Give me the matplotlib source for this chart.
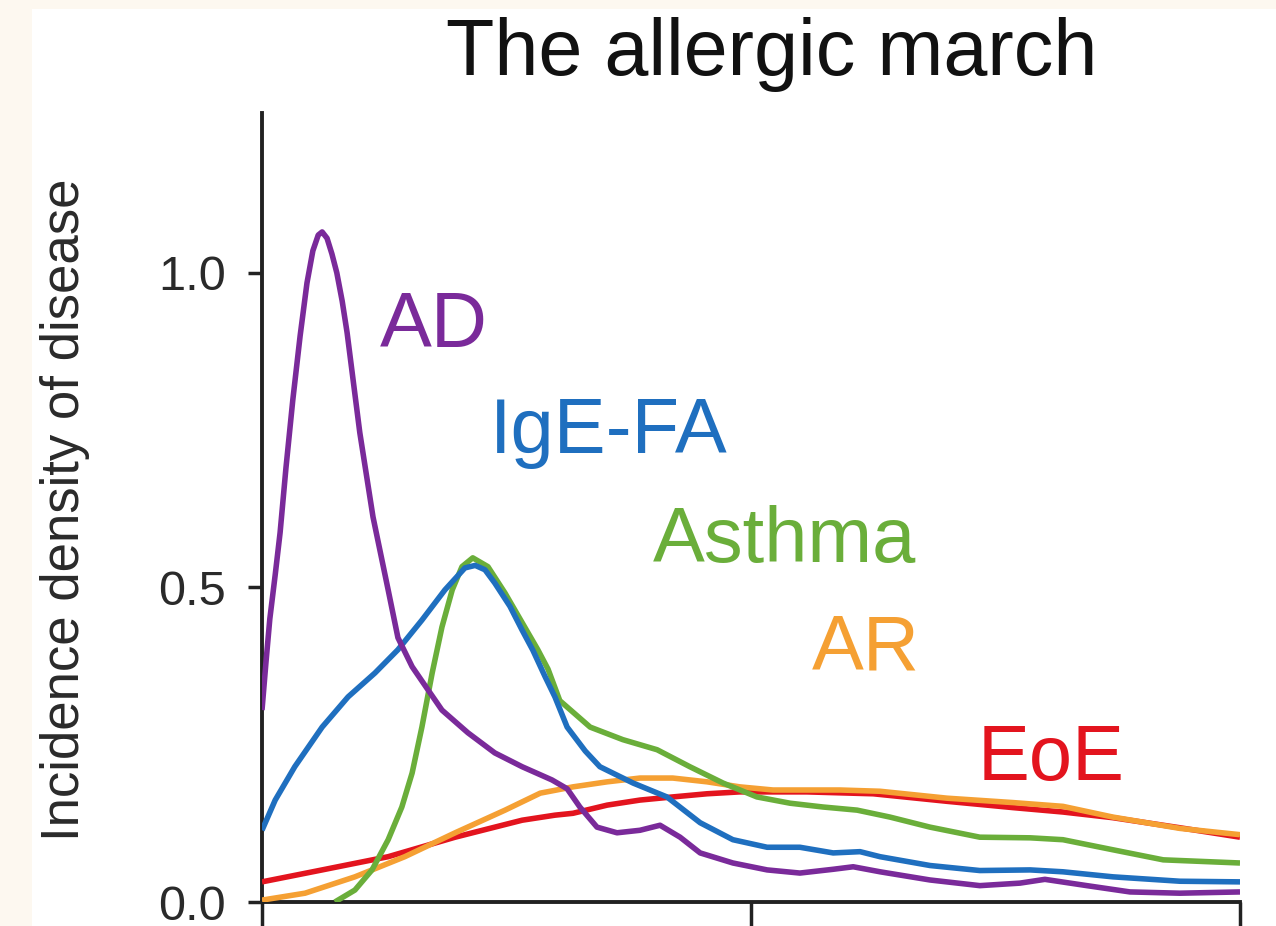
import numpy as np
import matplotlib
matplotlib.use("Agg")
import matplotlib.pyplot as plt
from matplotlib.patches import Rectangle

plt.rcParams['font.family'] = ['Liberation Sans', 'DejaVu Sans']

# age axis (arbitrary units 0-20) and incidence density
ad_x = [0, 0.08, 0.16, 0.27, 0.37, 0.49, 0.63, 0.78, 0.92, 1.04, 1.15, 1.23, 1.33, 1.43,
        1.53, 1.64, 1.74, 2.0, 2.27, 2.58, 2.78, 3.07, 3.37,
        3.68, 4.21, 4.76, 5.32, 5.93, 6.24, 6.5, 6.85, 7.26, 7.73, 8.14, 8.55, 8.96,
        9.63, 10.33, 11.0, 11.68, 12.09, 12.64, 13.66, 14.68, 15.5, 16.01, 16.87,
        17.75, 18.77, 20.0]
ad_y = [0.305, 0.38, 0.45, 0.52, 0.587, 0.69, 0.798, 0.90, 0.984, 1.035, 1.06, 1.065,
        1.055, 1.03, 1.0, 0.955, 0.905, 0.746, 0.612, 0.496, 0.42,
        0.374, 0.34, 0.305, 0.269, 0.237, 0.215, 0.194, 0.18, 0.151, 0.119, 0.110, 0.114,
        0.122, 0.103, 0.078, 0.062, 0.051, 0.046, 0.052, 0.056, 0.048, 0.035, 0.026,
        0.030, 0.036, 0.026, 0.016, 0.014, 0.016]

fa_x = [0, 0.27, 0.67, 1.23, 1.76, 2.31, 2.78, 3.27, 3.74, 4.15, 4.36, 4.56, 4.76, 5.07,
        5.32, 5.54, 5.79, 5.99, 6.24, 6.61, 6.91, 7.59, 8.28, 8.96, 9.63, 10.33, 11.0,
        11.68, 12.23, 12.64, 13.66, 14.68, 15.71, 16.38, 17.4, 18.77, 20.0]
fa_y = [0.114, 0.162, 0.215, 0.278, 0.326, 0.364, 0.401, 0.448, 0.496, 0.531, 0.535,
        0.528, 0.507, 0.47, 0.432, 0.40, 0.358, 0.326, 0.278, 0.24, 0.215, 0.189, 0.167,
        0.126, 0.099, 0.087, 0.087, 0.078, 0.080, 0.072, 0.058, 0.050, 0.051, 0.048,
        0.040, 0.033, 0.032]

asthma_x = [1.49, 1.9, 2.25, 2.58, 2.86, 3.07, 3.27, 3.48, 3.68, 3.89, 4.09, 4.31, 4.62,
            4.97, 5.32, 5.64, 5.85, 6.09, 6.71, 7.38, 8.08, 8.75, 9.43, 10.12, 10.8,
            11.47, 12.17, 12.84, 13.66, 14.68, 15.71, 16.38, 17.4, 18.43, 20.0]
asthma_y = [0.0, 0.019, 0.051, 0.099, 0.151, 0.205, 0.278, 0.364, 0.437, 0.496, 0.533,
            0.547, 0.533, 0.491, 0.444, 0.401, 0.37, 0.32, 0.278, 0.258, 0.242, 0.215,
            0.189, 0.167, 0.157, 0.151, 0.146, 0.135, 0.119, 0.103, 0.102, 0.099, 0.083,
            0.067, 0.062]

ar_x = [0, 0.88, 1.9, 2.92, 3.95, 4.97, 5.69, 6.36, 7.06, 7.73, 8.4, 9.1, 9.77, 10.45,
        11.14, 11.82, 12.64, 14.01, 15.36, 16.38, 17.4, 18.77, 20.0]
ar_y = [0.003, 0.014, 0.040, 0.072, 0.110, 0.146, 0.173, 0.183, 0.191, 0.197, 0.197,
        0.191, 0.183, 0.178, 0.178, 0.178, 0.176, 0.165, 0.158, 0.152, 0.135, 0.117, 0.107]

eoe_x = [0, 1.23, 2.58, 3.95, 5.32, 5.99, 6.36, 7.06, 7.73, 8.4, 9.1, 9.77, 11.14, 12.5,
         14.01, 15.36, 16.38, 17.4, 18.77, 20.0]
eoe_y = [0.032, 0.051, 0.072, 0.103, 0.130, 0.138, 0.141, 0.154, 0.162, 0.167, 0.172,
         0.175, 0.175, 0.172, 0.160, 0.150, 0.143, 0.134, 0.118, 0.103]

names = ["AD", "IgE-FA", "Asthma", "AR", "EoE"]
colors = ["#7a2a9a", "#1f6fbf", "#6aae3a", "#f5a033", "#e3141e"]
label_pos = [(2.41, 0.882), (4.66, 0.714), (8.0, 0.541), (11.25, 0.369), (14.64, 0.194)]

fig = plt.figure(figsize=(12.76, 9.26), dpi=100, facecolor="#fdf8f0")
fig.patches.append(Rectangle((32 / 1276, 0), 1, 1 - 9 / 926, transform=fig.transFigure,
                             facecolor="white", edgecolor="none", zorder=-5))
ax = fig.add_axes([262 / 1276, 24 / 926, 978 / 1276, 789 / 926])
ax.set_facecolor("none")
ax.set_zorder(2)

series = [(ad_x, ad_y), (fa_x, fa_y), (asthma_x, asthma_y), (ar_x, ar_y), (eoe_x, eoe_y)]
order = [4, 3, 2, 1, 0]
for i in order:
    xs, ys = series[i]
    ax.plot(xs, ys, color=colors[i], lw=4.0, solid_capstyle="butt",
            solid_joinstyle="round", zorder=3 + (4 - i))

for name, c, (tx, ty) in zip(names, colors, label_pos):
    ax.text(tx, ty, name, color=c, fontsize=56, ha="left", va="baseline")

ax.set_xlim(0, 20)
ax.set_ylim(0, 1.254)
ax.set_xticks([0, 10, 20])
ax.set_yticks([0, 0.5, 1.0])
ax.set_yticklabels(["0.0", "0.5", "1.0"])
ax.tick_params(axis="y", length=10, width=2.5, pad=16, labelsize=35,
               labelcolor="#2a2a2a", color="#222222")
ax.tick_params(axis="x", length=18, width=2.5, labelbottom=False, color="#222222")
for s in ["top", "right"]:
    ax.spines[s].set_visible(False)
for s in ["left", "bottom"]:
    ax.spines[s].set_linewidth(2.8)
    ax.spines[s].set_color("#222222")

fig.text(65 / 1276, 1 - 510 / 926, "Incidence density of disease", rotation=90,
         ha="center", va="center", fontsize=38, color="#2a2a2a")
fig.text(772 / 1276, 1 - 75 / 926, "The allergic march", ha="center", va="baseline",
         fontsize=57, color="#111111")

fig.savefig("out.png", dpi=100, facecolor=fig.get_facecolor())
